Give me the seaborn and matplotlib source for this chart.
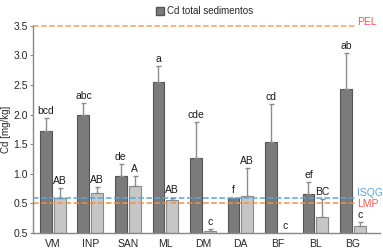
import pandas as pd
import matplotlib
matplotlib.use("Agg")
import matplotlib.pyplot as plt
import seaborn as sns
from matplotlib.patches import Patch

# datos
sitios = ["VM", "INP", "SAN", "ML", "DM", "DA", "BF", "BL", "BG"]
cd_total = [1.72, 2.00, 0.97, 2.56, 1.26, 0.59, 1.54, 0.66, 2.44]
cd_total_err = [0.22, 0.19, 0.19, 0.26, 0.61, 0.01, 0.64, 0.20, 0.60]
cd_total_letras = ["bcd", "abc", "de", "a", "cde", "f", "cd", "ef", "ab"]
cd_disp = [0.59, 0.67, 0.79, 0.56, 0.03, 0.62, 0.0, 0.27, 0.12]
cd_disp_err = [0.17, 0.11, 0.17, 0.04, 0.04, 0.48, 0.0, 0.30, 0.06]
cd_disp_letras = ["AB", "AB", "A", "AB", "c", "AB", "c", "BC", "c"]

umbrales = {"PEL": 3.5, "ISQG": 0.6, "LMP": 0.5}
y_ticks = [0, 0.5, 1.0, 1.5, 2.0, 2.5, 3.0, 3.5]
y_tick_labels = ["0.5", "0.5", "1.0", "1.5", "2.0", "2.5", "3.0", "3.5"]

df = pd.DataFrame({
    "sitio": sitios * 2,
    "valor": cd_total + cd_disp,
    "err": cd_total_err + cd_disp_err,
    "letra": cd_total_letras + cd_disp_letras,
    "serie": ["total"] * len(sitios) + ["disp"] * len(sitios),
})

sns.set_style("white")
plt.rcParams["font.family"] = ["Liberation Sans", "DejaVu Sans"]

fig = plt.figure(figsize=(3.83, 2.49), dpi=100)
ax = fig.add_axes([0.086, 0.064, 0.906, 0.832])

sns.barplot(data=df, x="sitio", y="valor", hue="serie", order=sitios,
            palette={"total": "#7b7b7b", "disp": "#c6c6c6"},
            width=0.74, gap=0.15, legend=False, ax=ax, errorbar=None)

# bordes y barras de error (solo hacia arriba)
for p, (_, fila) in zip(ax.patches, df.iterrows()):
    p.set_edgecolor("#555555" if fila["serie"] == "total" else "#8a8a8a")
    p.set_linewidth(0.8)
    xc = p.get_x() + p.get_width() / 2
    h = p.get_height()
    if fila["err"] > 0:
        ax.errorbar(xc, h, yerr=[[0], [fila["err"]]], fmt="none",
                    ecolor="#8c8c8c", elinewidth=1, capsize=1.8, capthick=1)
    ax.text(xc, h + fila["err"] + 0.04, fila["letra"], ha="center",
            va="bottom", fontsize=7.5, color="#1a1a1a")

# lineas de referencia
x_fin = 8.05
ax.plot([-0.53, x_fin], [umbrales["PEL"]] * 2, ls="--", color="#f4a060", lw=1.1, clip_on=False)
ax.plot([-0.53, x_fin], [umbrales["ISQG"]] * 2, ls="--", color="#5ba6e0", lw=1.1)
ax.plot([-0.53, x_fin], [umbrales["LMP"]] * 2, ls="--", color="#f0904a", lw=1.1)
ax.text(x_fin + 0.05, umbrales["PEL"] + 0.07, "PEL", color="#ff5050", fontsize=7.5, va="center")
ax.text(x_fin + 0.05, umbrales["ISQG"] + 0.08, "ISQG", color="#5ba6e0", fontsize=7.5, va="center")
ax.text(x_fin + 0.05, umbrales["LMP"] - 0.01, "LMP", color="#ff5050", fontsize=7.5, va="center")

ax.set_xlim(-0.53, 8.72)
ax.set_ylim(0, 3.5)
ax.set_yticks(y_ticks)
ax.set_yticklabels(y_tick_labels)
ax.set_xlabel("")
ax.set_ylabel("Cd [mg/kg]", fontsize=7, labelpad=2)
ax.tick_params(axis="y", labelsize=7.5, length=2, width=0.8, color="#888888", pad=1.5, left=True)
ax.tick_params(axis="x", labelsize=7.5, length=0, pad=4)
sns.despine(ax=ax)
for s in ["left", "bottom"]:
    ax.spines[s].set_color("#888888")
    ax.spines[s].set_linewidth(1)

leg = fig.legend(handles=[Patch(facecolor="#7b7b7b", edgecolor="#555555", label="Cd total sedimentos")],
                 loc="upper center", bbox_to_anchor=(0.535, 1.01), frameon=False,
                 fontsize=7, handlelength=0.8, handleheight=0.8, handletextpad=0.3)

fig.savefig("out.png", dpi=100)
